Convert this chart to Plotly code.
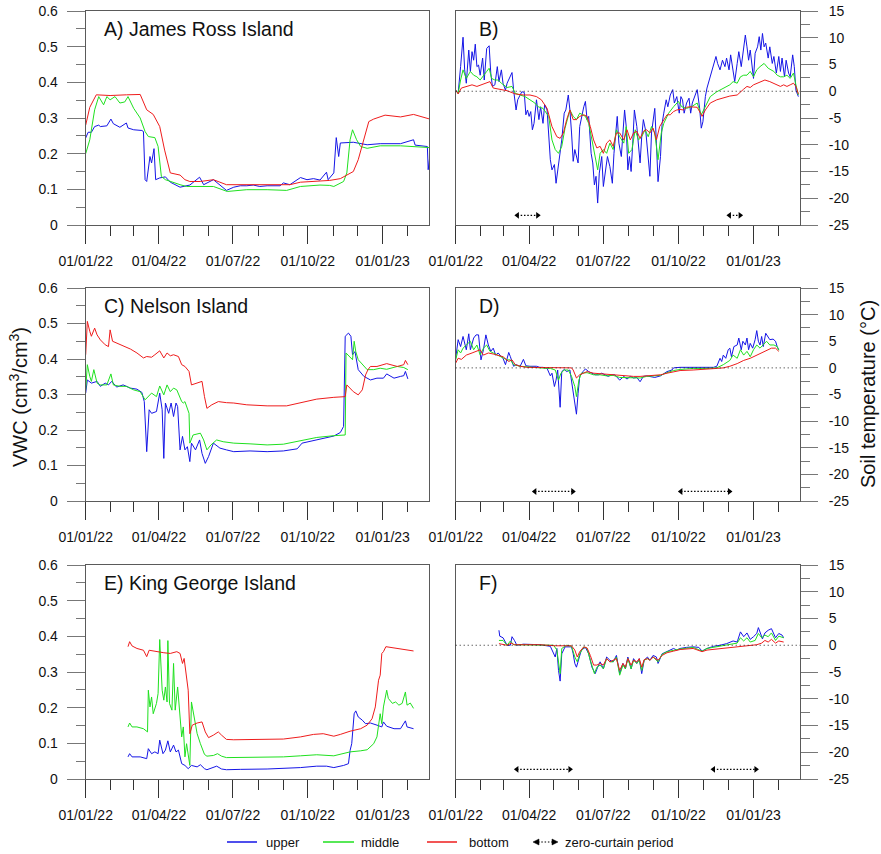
import plotly.graph_objects as go
import pandas as pd

BASE = pd.Timestamp("2022-01-01")
X_END = pd.Timestamp("2023-02-27")

# ---- Data: (day offset from 01/01/22, value) ----
# A) James Ross Island, VWC
A_upper = [(0,0.244),(3,0.26),(7,0.26),(11,0.276),(16,0.28),(18,0.276),(26,0.278),(31,0.297),(34,0.284),(42,0.274),(50,0.286),(52,0.272),(59,0.267),(69,0.265),(71,0.262),(73,0.127),(75,0.122),(79,0.192),(81,0.174),(84,0.214),(86,0.127),(91,0.132),(98,0.135),(104,0.12),(116,0.106),(128,0.112),(140,0.134),(145,0.113),(157,0.127),(165,0.112),(173,0.097),(182,0.106),(190,0.11),(198,0.11),(206,0.112),(214,0.108),(223,0.11),(239,0.11),(243,0.118),(251,0.113),(264,0.133),(272,0.127),(280,0.13),(288,0.126),(296,0.148),(298,0.127),(305,0.146),(308,0.245),(311,0.192),(313,0.23),(329,0.232),(346,0.225),(362,0.228),(387,0.228),(403,0.239),(405,0.224),(420,0.22),(421,0.155),(423,0.192)]
A_middle = [(0,0.2),(5,0.239),(11,0.323),(16,0.36),(22,0.337),(26,0.36),(30,0.351),(36,0.36),(42,0.342),(48,0.345),(52,0.36),(59,0.327),(67,0.30),(73,0.262),(77,0.248),(85,0.245),(89,0.22),(93,0.136),(98,0.127),(104,0.122),(116,0.113),(124,0.108),(141,0.108),(157,0.108),(174,0.094),(198,0.099),(223,0.099),(247,0.097),(264,0.108),(288,0.112),(300,0.111),(305,0.108),(317,0.122),(321,0.146),(325,0.239),(328,0.267),(333,0.239),(338,0.22),(346,0.215),(362,0.222),(387,0.222),(411,0.22),(423,0.217)]
A_bottom = [(0,0.28),(5,0.33),(13,0.365),(30,0.363),(50,0.365),(67,0.366),(75,0.323),(83,0.31),(91,0.276),(97,0.21),(104,0.146),(116,0.14),(122,0.127),(128,0.122),(141,0.122),(157,0.127),(173,0.113),(200,0.113),(230,0.114),(251,0.113),(264,0.12),(300,0.125),(313,0.13),(329,0.15),(335,0.183),(342,0.239),(348,0.29),(354,0.297),(364,0.304),(368,0.308),(387,0.303),(403,0.31),(423,0.297)]

# B) James Ross Island, soil temperature
B_upper = [(0,0.2),(3,-0.4),(6,4.6),(9,10.1),(11,4.0),(13,1.5),(16,7.7),(18,3.7),(20,7.4),(22,5.8),(24,8.8),(26,4.6),(28,4.9),(30,3.0),(33,6.2),(35,2.1),(38,8.0),(41,8.5),(43,3.4),(45,0.9),(48,1.2),(51,4.6),(53,1.8),(56,4.0),(58,1.5),(61,0.2),(63,1.5),(67,3.0),(69,3.5),(71,0.2),(74,-3.5),(76,-1.6),(79,-0.7),(81,-0.1),(84,-0.2),(86,-4.4),(88,-3.5),(90,-4.7),(92,-3.8),(94,-7.2),(96,-6.0),(99,-1.6),(102,-5.3),(104,-2.9),(107,-6.0),(109,-2.5),(112,-3.5),(114,-7.8),(116,-12.8),(118,-14.7),(121,-13.7),(123,-17.2),(126,-14.1),(128,-11.6),(130,-9.1),(133,-4.1),(135,-3.5),(138,-0.7),(140,-3.5),(142,-7.8),(144,-13.1),(146,-10.9),(148,-12.2),(150,-13.4),(152,-6.6),(155,-4.1),(157,-2.9),(159,-1.9),(161,-5.3),(163,-4.7),(166,-11.6),(168,-13.4),(170,-17.5),(172,-15.9),(174,-20.9),(176,-15.3),(179,-12.2),(181,-17.8),(184,-14.7),(186,-12.2),(189,-14.1),(192,-17.2),(194,-11.6),(196,-7.5),(198,-4.7),(200,-9.7),(203,-12.2),(205,-7.8),(207,-3.5),(209,-6.6),(211,-14.7),(213,-12.2),(215,-15.0),(217,-9.7),(219,-3.5),(222,-6.6),(224,-10.3),(226,-13.4),(228,-8.5),(230,-5.3),(233,-7.5),(235,-10.9),(238,-15.9),(240,-7.8),(242,-5.3),(244,-3.2),(246,-9.7),(248,-16.9),(251,-12.2),(253,-6.0),(255,-4.1),(258,-1.6),(260,-2.9),(263,-0.7),(266,0.3),(268,-2.2),(271,-1.0),(274,-4.1),(276,-1.0),(278,-1.6),(280,-4.1),(283,-2.2),(286,-1.3),(288,-4.1),(290,-2.2),(293,-1.0),(296,0.3),(299,-3.2),(301,-6.9),(303,-5.7),(306,-1.0),(308,0.6),(311,2.1),(313,3.4),(316,4.6),(319,6.5),(321,5.2),(324,4.0),(327,5.8),(330,4.6),(332,6.2),(335,4.0),(337,6.8),(340,4.0),(342,1.8),(345,5.2),(347,7.4),(350,4.6),(352,7.1),(355,10.5),(357,8.3),(359,5.8),(361,7.7),(363,4.6),(365,2.4),(367,7.1),(370,8.3),(372,10.2),(374,7.7),(376,10.8),(378,8.3),(380,9.0),(383,6.2),(385,8.3),(388,5.2),(390,6.5),(393,3.4),(396,6.5),(398,3.7),(400,6.2),(403,2.7),(405,5.8),(408,3.4),(410,2.7),(413,6.8),(415,4.6),(417,0.2),(420,-1.0)]
B_middle = [(0,0.2),(3,-0.4),(6,2.1),(9,4.0),(13,2.4),(18,3.7),(22,3.0),(26,2.7),(30,2.1),(34,3.0),(38,3.7),(41,4.3),(44,2.4),(48,2.1),(52,2.1),(56,1.5),(63,0.7),(69,0.9),(73,-0.4),(79,-0.7),(85,-1.0),(91,-1.6),(97,-2.2),(101,-2.9),(107,-3.2),(114,-4.7),(118,-9.1),(122,-10.9),(126,-11.6),(130,-10.3),(134,-6.9),(140,-3.5),(144,-4.7),(148,-5.3),(152,-4.1),(159,-4.7),(163,-6.0),(167,-9.1),(171,-12.2),(174,-14.7),(177,-11.6),(181,-10.9),(185,-11.6),(189,-9.7),(193,-10.9),(197,-7.2),(201,-8.5),(206,-9.7),(209,-6.6),(212,-11.6),(216,-10.9),(220,-7.2),(224,-9.1),(228,-8.5),(232,-7.2),(236,-8.5),(240,-6.6),(244,-7.8),(248,-12.8),(252,-7.8),(255,-6.0),(261,-4.1),(267,-2.9),(273,-1.9),(277,-2.9),(283,-3.2),(289,-2.9),(296,-2.2),(301,-4.4),(306,-2.9),(312,-1.0),(320,-0.1),(328,0.6),(336,1.2),(340,1.8),(345,1.5),(349,2.7),(353,3.0),(357,3.0),(361,3.7),(365,2.7),(369,4.0),(373,4.6),(378,5.2),(383,4.3),(390,3.7),(394,3.0),(398,2.7),(402,2.7),(406,3.0),(410,2.4),(414,3.4),(417,1.2),(420,-0.7)]
B_bottom = [(0,0.2),(3,-0.5),(7,0.6),(13,0.9),(20,1.2),(26,0.9),(32,1.2),(38,1.5),(42,1.8),(46,0.6),(54,0.4),(63,0.1),(73,-0.5),(83,-0.7),(91,-0.7),(99,-1.0),(105,-1.6),(112,-3.2),(118,-6.6),(124,-8.5),(128,-8.8),(132,-7.8),(136,-5.3),(140,-3.5),(144,-5.3),(148,-5.3),(152,-4.7),(157,-4.4),(161,-4.7),(165,-6.6),(169,-9.1),(173,-10.6),(177,-10.3),(181,-11.6),(185,-9.7),(189,-9.1),(193,-10.3),(197,-7.8),(201,-7.8),(206,-9.1),(210,-7.2),(214,-9.1),(218,-7.8),(222,-7.5),(226,-8.8),(230,-7.5),(234,-7.2),(238,-7.8),(242,-6.9),(246,-9.1),(250,-6.6),(255,-5.3),(259,-4.4),(263,-4.4),(267,-3.8),(271,-3.5),(275,-3.4),(279,-3.5),(283,-3.0),(287,-2.9),(291,-2.9),(296,-3.0),(300,-4.1),(302,-4.7),(306,-3.5),(312,-2.2),(320,-1.6),(328,-1.2),(336,-0.9),(345,-0.7),(349,-0.1),(353,0.4),(357,0.9),(361,0.7),(365,1.2),(369,1.5),(373,1.8),(379,2.1),(385,1.8),(390,1.5),(394,1.2),(398,0.9),(402,1.2),(406,0.9),(410,1.2),(414,1.5),(417,0.9),(420,-0.5)]

# C) Nelson Island, VWC
C_upper = [(0,0.304),(2,0.341),(7,0.332),(14,0.337),(18,0.323),(24,0.332),(28,0.327),(32,0.337),(38,0.321),(46,0.327),(55,0.318),(63,0.315),(69,0.306),(72,0.28),(75,0.139),(78,0.257),(81,0.247),(87,0.252),(91,0.304),(94,0.257),(96,0.12),(98,0.276),(102,0.247),(105,0.276),(108,0.238),(111,0.276),(113,0.266),(116,0.144),(119,0.182),(122,0.144),(125,0.153),(128,0.111),(130,0.163),(135,0.144),(140,0.172),(143,0.134),(147,0.106),(151,0.125),(157,0.163),(165,0.149),(173,0.144),(182,0.139),(202,0.141),(223,0.139),(243,0.141),(260,0.147),(266,0.163),(284,0.172),(305,0.183),(313,0.193),(317,0.21),(319,0.464),(323,0.473),(326,0.464),(328,0.412),(331,0.421),(335,0.37),(342,0.351),(350,0.341),(358,0.346),(366,0.346),(370,0.358),(379,0.346),(387,0.351),(391,0.353),(393,0.365),(396,0.344)]
C_middle = [(0,0.313),(2,0.384),(5,0.351),(7,0.337),(10,0.37),(14,0.332),(18,0.327),(26,0.327),(31,0.358),(34,0.327),(42,0.323),(50,0.323),(59,0.313),(67,0.308),(73,0.285),(77,0.294),(81,0.304),(87,0.294),(91,0.324),(96,0.299),(100,0.327),(104,0.308),(108,0.318),(112,0.313),(118,0.28),(120,0.276),(122,0.28),(127,0.247),(128,0.163),(132,0.186),(141,0.191),(145,0.172),(149,0.144),(154,0.158),(161,0.172),(169,0.167),(182,0.163),(202,0.161),(223,0.158),(243,0.16),(264,0.17),(284,0.179),(305,0.184),(319,0.186),(320,0.417),(324,0.407),(328,0.398),(330,0.45),(332,0.421),(335,0.398),(342,0.379),(346,0.37),(354,0.37),(362,0.374),(370,0.371),(383,0.379),(391,0.376),(396,0.37)]
C_bottom = [(0,0.412),(2,0.506),(5,0.478),(7,0.464),(11,0.487),(14,0.468),(18,0.454),(24,0.44),(28,0.435),(30,0.482),(33,0.45),(38,0.445),(46,0.435),(55,0.428),(63,0.417),(71,0.403),(75,0.407),(81,0.405),(85,0.412),(91,0.423),(96,0.403),(100,0.417),(104,0.409),(108,0.412),(114,0.407),(118,0.384),(122,0.379),(127,0.365),(130,0.327),(137,0.332),(143,0.337),(146,0.294),(149,0.261),(155,0.271),(163,0.28),(173,0.277),(182,0.276),(198,0.271),(223,0.268),(247,0.268),(264,0.277),(284,0.287),(305,0.292),(319,0.294),(321,0.327),(325,0.318),(329,0.308),(335,0.299),(340,0.313),(344,0.355),(347,0.37),(350,0.379),(358,0.379),(370,0.387),(383,0.379),(391,0.384),(393,0.396),(396,0.384)]

# D) Nelson Island, soil temperature
D_upper = [(0,1.8),(3,5.3),(6,4.0),(9,5.9),(13,3.4),(16,6.4),(18,3.4),(22,5.6),(25,6.2),(28,6.2),(31,1.5),(34,3.4),(37,6.2),(40,4.3),(43,3.1),(46,3.7),(49,2.4),(52,2.8),(56,2.1),(58,1.8),(61,0.6),(65,2.9),(67,2.1),(71,0.3),(74,0.6),(79,0.3),(83,1.6),(86,0.4),(91,0.3),(99,0.3),(103,0.1),(107,0.1),(112,-0.1),(116,-1.5),(118,-1.0),(121,-3.5),(123,-2.3),(125,-0.4),(128,-7.4),(130,-0.7),(133,-0.3),(136,-0.7),(140,-0.4),(143,-3.8),(146,-6.3),(148,-8.7),(150,-4.8),(152,-1.6),(156,-0.7),(159,-0.2),(163,-0.7),(167,-1.0),(171,-1.3),(175,-1.3),(179,-1.0),(183,-1.3),(187,-1.6),(191,-1.3),(195,-1.3),(201,-2.3),(206,-1.6),(210,-2.1),(214,-1.6),(218,-1.9),(222,-1.8),(226,-2.6),(230,-1.6),(234,-1.5),(238,-1.6),(244,-1.8),(251,-1.5),(259,-0.7),(265,-0.4),(267,0.0),(275,0.1),(291,0.1),(308,0.1),(316,0.1),(320,0.3),(324,1.8),(326,1.2),(328,2.4),(331,1.8),(334,3.4),(336,3.7),(338,2.1),(341,4.0),(345,4.3),(347,5.6),(350,3.4),(352,5.0),(355,4.3),(357,5.6),(359,3.4),(361,4.6),(364,3.7),(367,5.3),(369,7.0),(371,5.0),(373,4.3),(375,5.9),(377,4.0),(380,6.5),(383,5.6),(385,5.3),(389,5.4),(392,5.0),(394,4.0),(396,3.4)]
D_middle = [(0,1.5),(3,3.4),(6,2.8),(9,3.7),(13,4.3),(18,5.0),(22,3.4),(26,4.3),(30,2.4),(34,3.7),(38,4.3),(42,3.1),(46,2.8),(52,2.3),(58,1.8),(63,1.5),(67,1.5),(71,0.6),(79,0.3),(91,0.1),(103,0.0),(116,-0.1),(122,-0.4),(126,-2.3),(129,-1.0),(133,-0.4),(138,-0.4),(142,-1.6),(146,-3.5),(148,-5.4),(151,-2.3),(154,-1.0),(161,-0.9),(169,-1.3),(177,-1.3),(185,-1.5),(193,-1.4),(201,-1.8),(210,-1.8),(218,-1.8),(226,-1.9),(234,-1.6),(242,-1.5),(251,-1.4),(259,-0.9),(267,-0.5),(275,-0.3),(291,-0.1),(308,-0.1),(320,0.0),(328,0.6),(336,1.4),(340,2.4),(345,1.8),(349,3.4),(353,2.4),(357,3.1),(361,2.1),(365,3.4),(369,4.3),(373,3.7),(377,4.3),(381,5.0),(385,4.3),(390,4.3),(394,4.0),(396,3.3)]
D_bottom = [(0,0.9),(3,1.8),(7,1.6),(13,2.4),(20,2.8),(26,3.1),(30,3.4),(34,2.4),(40,2.8),(46,2.6),(52,2.3),(58,2.1),(65,1.2),(69,1.5),(73,0.6),(79,0.3),(87,0.1),(99,0.1),(116,0.0),(132,0.0),(142,0.0),(144,-0.4),(148,-1.9),(152,-1.3),(161,-0.7),(169,-1.0),(177,-1.1),(185,-1.2),(193,-1.4),(201,-1.5),(210,-1.6),(218,-1.6),(226,-1.6),(234,-1.5),(242,-1.4),(251,-1.3),(259,-1.0),(267,-0.7),(275,-0.5),(291,-0.4),(308,-0.3),(320,-0.1),(328,0.0),(336,0.3),(345,0.8),(353,1.4),(361,1.8),(369,2.4),(373,2.8),(377,3.1),(381,3.4),(387,3.7),(392,3.7),(396,3.1)]

# E) King George Island, VWC
E_upper = [(52,0.062),(54,0.071),(57,0.062),(67,0.062),(75,0.057),(77,0.085),(81,0.071),(85,0.076),(89,0.071),(91,0.109),(95,0.071),(98,0.081),(101,0.107),(104,0.076),(108,0.095),(111,0.076),(114,0.081),(118,0.043),(122,0.038),(126,0.029),(130,0.038),(137,0.034),(141,0.04),(146,0.029),(149,0.026),(157,0.032),(161,0.036),(167,0.028),(173,0.026),(190,0.027),(223,0.028),(264,0.032),(284,0.036),(296,0.036),(305,0.032),(317,0.038),(323,0.043),(325,0.08),(327,0.099),(330,0.183),(332,0.191),(335,0.174),(340,0.165),(344,0.155),(350,0.157),(358,0.151),(364,0.146),(366,0.16),(370,0.148),(379,0.141),(387,0.141),(393,0.163),(395,0.146),(403,0.141)]
E_middle = [(52,0.146),(54,0.157),(57,0.146),(63,0.146),(71,0.141),(76,0.132),(77,0.249),(79,0.202),(81,0.23),(83,0.183),(87,0.212),(89,0.24),(91,0.391),(94,0.249),(96,0.221),(98,0.258),(100,0.216),(101,0.388),(103,0.212),(106,0.193),(108,0.324),(110,0.193),(113,0.258),(115,0.193),(118,0.118),(120,0.146),(122,0.062),(124,0.099),(128,0.038),(130,0.216),(133,0.174),(137,0.127),(141,0.099),(146,0.069),(149,0.064),(157,0.066),(162,0.071),(167,0.064),(173,0.06),(190,0.06),(223,0.06),(243,0.062),(264,0.065),(284,0.068),(305,0.065),(325,0.076),(338,0.079),(346,0.082),(354,0.099),(358,0.118),(362,0.183),(364,0.155),(366,0.202),(368,0.23),(370,0.249),(372,0.226),(377,0.212),(381,0.216),(385,0.207),(389,0.212),(393,0.244),(395,0.207),(399,0.213),(403,0.198)]
E_bottom = [(52,0.371),(54,0.385),(57,0.373),(63,0.366),(71,0.361),(75,0.343),(78,0.361),(87,0.357),(96,0.354),(104,0.352),(112,0.357),(116,0.352),(119,0.324),(121,0.338),(124,0.291),(126,0.249),(128,0.127),(131,0.151),(137,0.157),(143,0.16),(147,0.132),(151,0.116),(157,0.123),(163,0.132),(167,0.123),(173,0.111),(182,0.11),(202,0.11),(223,0.11),(243,0.112),(264,0.118),(280,0.125),(292,0.127),(305,0.12),(313,0.125),(325,0.134),(338,0.141),(346,0.151),(352,0.169),(356,0.202),(360,0.277),(362,0.291),(364,0.352),(366,0.357),(369,0.371),(377,0.368),(387,0.363),(395,0.361),(403,0.359)]

# F) King George Island, soil temperature
F_upper = [(53,2.8),(54,1.7),(58,1.4),(63,0.0),(67,0.0),(69,1.6),(72,0.9),(75,0.0),(83,0.2),(103,0.1),(116,-0.2),(122,-2.2),(124,-0.6),(126,-4.7),(128,-6.7),(130,-1.6),(134,-0.3),(142,-0.3),(144,-1.6),(146,-3.4),(148,-4.1),(151,-2.5),(154,-0.9),(159,-0.4),(163,-1.6),(167,-4.1),(171,-5.3),(174,-4.1),(177,-3.1),(181,-4.4),(185,-2.2),(189,-2.8),(193,-3.1),(197,-1.9),(201,-5.3),(205,-3.4),(208,-4.4),(211,-2.2),(215,-4.4),(218,-2.5),(222,-3.4),(225,-2.5),(228,-5.3),(231,-2.8),(235,-2.2),(238,-2.8),(242,-1.9),(246,-2.2),(248,-3.4),(253,-1.6),(259,-1.2),(263,-0.9),(267,-0.6),(271,-0.9),(275,-0.6),(283,-0.4),(291,-0.3),(298,-0.4),(302,-1.1),(308,-0.6),(316,-0.2),(324,0.0),(332,0.3),(340,0.8),(345,0.6),(349,2.5),(353,1.6),(357,2.3),(361,1.1),(365,1.6),(369,2.2),(371,3.3),(373,2.5),(376,1.2),(379,2.3),(383,2.8),(387,3.1),(392,1.4),(396,2.2),(400,1.9),(402,1.4)]
F_middle = [(53,0.9),(58,0.9),(63,0.0),(67,0.8),(71,0.1),(83,0.1),(103,0.1),(120,0.0),(124,-0.9),(126,-2.8),(128,-5.3),(130,-0.6),(136,0.0),(142,-0.2),(146,-2.2),(149,-3.1),(152,-1.6),(157,-0.3),(161,-0.6),(165,-2.8),(170,-5.3),(173,-4.1),(177,-3.7),(181,-4.4),(185,-2.5),(189,-3.1),(193,-3.1),(197,-2.2),(201,-5.6),(205,-3.7),(208,-4.4),(211,-2.5),(215,-4.4),(218,-2.8),(222,-3.4),(225,-2.8),(228,-4.7),(231,-2.8),(235,-2.5),(238,-2.8),(242,-2.2),(248,-3.1),(253,-1.7),(259,-1.2),(267,-0.9),(275,-0.7),(291,-0.4),(302,-1.1),(308,-0.6),(324,-0.2),(336,0.2),(345,0.4),(349,1.4),(353,0.8),(357,1.4),(361,0.6),(367,0.9),(371,2.2),(375,1.4),(379,1.9),(383,1.6),(387,2.3),(392,0.9),(396,1.7),(402,1.4)]
F_bottom = [(53,0.3),(58,0.1),(63,0.0),(68,0.4),(72,0.1),(103,0.1),(122,-0.1),(142,-0.1),(146,-0.9),(149,-2.2),(152,-1.2),(157,-0.3),(161,-0.5),(165,-1.9),(169,-3.7),(173,-3.7),(177,-3.4),(181,-3.7),(185,-2.5),(189,-3.1),(193,-2.8),(197,-2.5),(201,-4.7),(205,-3.4),(208,-4.1),(211,-2.5),(215,-3.7),(218,-2.8),(222,-3.1),(225,-2.5),(228,-4.1),(231,-2.7),(235,-2.5),(238,-2.8),(242,-2.2),(248,-2.8),(253,-1.9),(259,-1.4),(267,-1.1),(275,-0.8),(291,-0.6),(302,-1.2),(308,-0.9),(324,-0.6),(340,-0.4),(357,-0.1),(369,0.1),(375,0.4),(379,0.9),(383,0.6),(387,1.1),(392,0.4),(396,0.8),(402,0.6)]

# Zero-curtain periods (start day, end day) and the level where arrows are drawn
B_zc = [(75.6, 100.5), (335.5, 348.6)]
D_zc = [(97, 143.5), (276, 335.5)]
F_zc = [(75, 140), (316, 368)]
ZC_LEVEL = -23.2

PANEL_LABELS = ["A) James Ross Island", "B)", "C) Nelson Island", "D)", "E) King George Island", "F)"]
TEMP_TICKS = [-25, -20, -15, -10, -5, 0, 5, 10, 15]
TEMP_TICKTEXT = ["-25", "-20", "-15", "-10", "-5", "0", "5", "10", "15"]
SERIES_NAMES = ["upper", "middle", "bottom"]
COLORS = {"upper": "#1515e6", "middle": "#1fe01f", "bottom": "#ee1c1c"}

W, H = 881, 854
FONT = "Liberation Sans, Arial, sans-serif"


def dates(days):
    return [BASE + pd.to_timedelta(d, unit="D") for d in days]


def px_x(p):
    return p / W


def px_y(p):
    return 1 - p / H


fig = go.Figure()

panels = [
    ("", "", [A_upper, A_middle, A_bottom], None),
    ("2", "2", [B_upper, B_middle, B_bottom], B_zc),
    ("3", "3", [C_upper, C_middle, C_bottom], None),
    ("4", "4", [D_upper, D_middle, D_bottom], D_zc),
    ("5", "5", [E_upper, E_middle, E_bottom], None),
    ("6", "6", [F_upper, F_middle, F_bottom], F_zc),
]

for xs, ys, series, zc in panels:
    for name, ser in zip(SERIES_NAMES, series):
        d, v = zip(*ser)
        fig.add_trace(go.Scatter(x=dates(d), y=list(v), mode="lines", name=name,
                                 line=dict(color=COLORS[name], width=1),
                                 xaxis="x" + xs, yaxis="y" + ys, showlegend=False))
    if zc:
        for s, e in zc:
            fig.add_trace(go.Scatter(x=dates([s, e]), y=[ZC_LEVEL, ZC_LEVEL], mode="lines+markers",
                                     line=dict(color="black", width=1.3, dash="1.5px,1.8px"),
                                     marker=dict(symbol=["triangle-left", "triangle-right"], size=6,
                                                 color="black"),
                                     xaxis="x" + xs, yaxis="y" + ys, showlegend=False))

# Layout geometry (pixels)
LEFT_COL = (85.7, 429.0)
RIGHT_COL = (455.7, 800.0)
ROWS = [(11, 225), (288, 501), (565, 779)]

AX_LINE = "#5a5a5a"
TICK_FONT = dict(family=FONT, size=14, color="#111")


def xaxis(anchor, col, row):
    return dict(domain=[px_x(col[0]), px_x(col[1])], anchor=anchor, type="date", automargin=False,
                range=[BASE, X_END], tickmode="linear", tick0="2022-01-01", dtick="M3",
                tickformat="%d/%m/%y", ticks="outside", ticklen=18, tickwidth=1, tickcolor="#333",
                showline=True, linecolor=AX_LINE, linewidth=1, mirror=True, showgrid=False,
                zeroline=False, tickfont=TICK_FONT, ticklabelstandoff=5,
                minor=dict(dtick="M1", tick0="2022-01-01", ticks="outside", ticklen=10,
                           tickwidth=1, tickcolor="#333", showgrid=False))


def yaxis_vwc(anchor, row):
    return dict(domain=[px_y(row[1]), px_y(row[0])], anchor=anchor, range=[0, 0.6], automargin=False,
                tickmode="linear", tick0=0, dtick=0.1, ticks="outside", ticklen=18, tickwidth=1,
                tickcolor="#777", showline=True, linecolor=AX_LINE, linewidth=1, mirror=True,
                showgrid=False, zeroline=False, tickfont=TICK_FONT, ticklabelstandoff=6,
                minor=dict(dtick=0.05, tick0=0, ticks="outside", ticklen=9, tickwidth=1,
                           tickcolor="#777", showgrid=False))


def yaxis_temp(anchor, row):
    return dict(domain=[px_y(row[1]), px_y(row[0])], anchor=anchor, side="right", range=[-25, 15],
                automargin=False,
                tickmode="array", tickvals=TEMP_TICKS, ticktext=TEMP_TICKTEXT, ticks="outside",
                ticklen=17, tickwidth=1, tickcolor="#777", showline=True, linecolor=AX_LINE,
                linewidth=1, mirror=True, showgrid=False, zeroline=False, tickfont=TICK_FONT,
                ticklabelstandoff=8,
                minor=dict(tickmode="linear", tick0=-25, dtick=2.5, ticks="outside", ticklen=9,
                           tickwidth=1, tickcolor="#777", showgrid=False))


layout = dict(width=W, height=H, margin=dict(l=0, r=0, t=0, b=0, autoexpand=False),
              paper_bgcolor="white", plot_bgcolor="white", showlegend=False,
              font=dict(family=FONT, color="#111"))
layout["xaxis"] = xaxis("y", LEFT_COL, ROWS[0])
layout["yaxis"] = yaxis_vwc("x", ROWS[0])
layout["xaxis2"] = xaxis("y2", RIGHT_COL, ROWS[0])
layout["yaxis2"] = yaxis_temp("x2", ROWS[0])
layout["xaxis3"] = xaxis("y3", LEFT_COL, ROWS[1])
layout["yaxis3"] = yaxis_vwc("x3", ROWS[1])
layout["xaxis4"] = xaxis("y4", RIGHT_COL, ROWS[1])
layout["yaxis4"] = yaxis_temp("x4", ROWS[1])
layout["xaxis5"] = xaxis("y5", LEFT_COL, ROWS[2])
layout["yaxis5"] = yaxis_vwc("x5", ROWS[2])
layout["xaxis6"] = xaxis("y6", RIGHT_COL, ROWS[2])
layout["yaxis6"] = yaxis_temp("x6", ROWS[2])
fig.update_layout(**layout)

# Panel labels
label_pos = [("x", "y", 0.047), ("x2", "y2", 0.061), ("x3", "y3", 0.047),
             ("x4", "y4", 0.061), ("x5", "y5", 0.047), ("x6", "y6", 0.061)]
for (xr, yr, xx), text in zip(label_pos, PANEL_LABELS):
    fig.add_annotation(text=text, xref=xr + " domain", yref=yr + " domain", x=xx, y=0.915,
                       xanchor="left", yanchor="middle", showarrow=False,
                       font=dict(family=FONT, size=19.5, color="#111"))

# Zero dotted lines in temperature panels
for xr, yr in [("x2", "y2"), ("x4", "y4"), ("x6", "y6")]:
    fig.add_shape(type="line", xref=xr + " domain", yref=yr, x0=0, x1=1, y0=0, y1=0,
                  line=dict(color="#222", width=1, dash="1px,3px"))

# Axis titles
fig.add_annotation(text="VWC (cm<sup>3</sup>/cm<sup>3</sup>)", xref="paper", yref="paper",
                   x=px_x(19), y=px_y(397), textangle=-90, showarrow=False,
                   xanchor="center", yanchor="middle", font=dict(family=FONT, size=20, color="#111"))
fig.add_annotation(text="Soil temperature (°C)", xref="paper", yref="paper",
                   x=px_x(868), y=px_y(394), textangle=-90, showarrow=False,
                   xanchor="center", yanchor="middle", font=dict(family=FONT, size=20, color="#111"))

# Custom legend
LEG_Y = 842
leg_items = [("upper", 227, 257, 264), ("middle", 323, 354, 359), ("bottom", 427, 457, 467)]
for name, x0, x1, tx in leg_items:
    fig.add_shape(type="line", xref="paper", yref="paper", x0=px_x(x0), x1=px_x(x1),
                  y0=px_y(LEG_Y), y1=px_y(LEG_Y), line=dict(color=COLORS[name], width=1.5))
    fig.add_annotation(text=name, xref="paper", yref="paper", x=px_x(tx), y=px_y(LEG_Y),
                       xanchor="left", yanchor="middle", showarrow=False,
                       font=dict(family=FONT, size=13, color="#111"))
# zero-curtain legend sample
fig.add_shape(type="line", xref="paper", yref="paper", x0=px_x(538), x1=px_x(553),
              y0=px_y(LEG_Y), y1=px_y(LEG_Y), line=dict(color="black", width=1.2, dash="1.5px,1.8px"))
for tip, back in [(533, 539), (558, 552)]:
    path = "M {:.5f},{:.5f} L {:.5f},{:.5f} L {:.5f},{:.5f} Z".format(
        px_x(tip), px_y(LEG_Y), px_x(back), px_y(LEG_Y - 3), px_x(back), px_y(LEG_Y + 3))
    fig.add_shape(type="path", xref="paper", yref="paper", path=path,
                  fillcolor="black", line=dict(color="black", width=0.5))
fig.add_annotation(text="zero-curtain period", xref="paper", yref="paper", x=px_x(563), y=px_y(LEG_Y),
                   xanchor="left", yanchor="middle", showarrow=False,
                   font=dict(family=FONT, size=13, color="#111"))

fig.write_html("out.html")
